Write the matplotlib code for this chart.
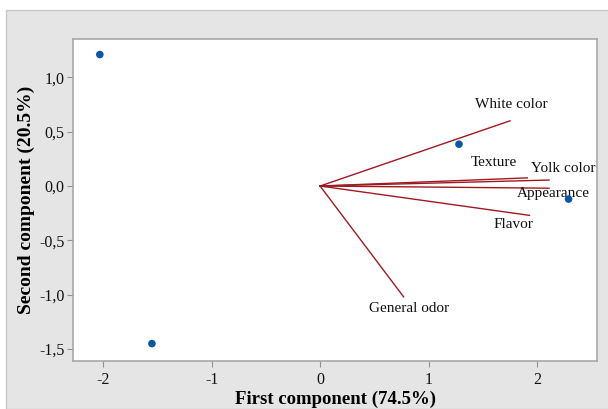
import matplotlib
matplotlib.use('Agg')
import matplotlib.pyplot as plt
from matplotlib.patches import Rectangle
from matplotlib.ticker import FuncFormatter

# PCA scores (samples)
score_pc1 = [-2.03, -1.55, 1.28, 2.29]
score_pc2 = [1.21, -1.45, 0.385, -0.12]

# loading vectors (attributes)
attributes = ['White color', 'Texture', 'Yolk color', 'Appearance', 'Flavor', 'General odor']
load_pc1 = [1.75, 1.91, 2.11, 2.11, 1.93, 0.77]
load_pc2 = [0.60, 0.075, 0.055, -0.02, -0.27, -1.02]

# label anchor (centre) for each attribute
label_x = [1.76, 1.60, 2.24, 2.15, 1.78, 0.82]
label_y = [0.75, 0.22, 0.16, -0.07, -0.35, -1.13]

plt.rcParams['font.family'] = ['Liberation Serif', 'DejaVu Serif']

fig = plt.figure(figsize=(6.08, 4.09), dpi=100)
fig.patch.set_facecolor('white')
# grey backdrop around the plot area
fig.patches.append(Rectangle((5.5 / 608, 0), 1, 1 - 10 / 409, transform=fig.transFigure,
                             facecolor='#e5e5e5', edgecolor='#c8c8c8', linewidth=1, zorder=-5))

ax = fig.add_axes([0.1196, 0.1174, 0.863, 0.787])
ax.set_facecolor('white')

for x, y in zip(load_pc1, load_pc2):
    ax.plot([0, x], [0, y], color='#9e1a20', linewidth=1.0, zorder=2)

for name, x, y in zip(attributes, label_x, label_y):
    ax.text(x, y, name, fontsize=11, ha='center', va='center', color='#111111', zorder=3)

ax.scatter(score_pc1, score_pc2, s=30, color='#0a57a8', zorder=4, edgecolors='none')

ax.set_xlim(-2.28, 2.556)
ax.set_ylim(-1.61, 1.352)
ax.set_xticks([-2, -1, 0, 1, 2])
ax.set_yticks([-1.5, -1.0, -0.5, 0.0, 0.5, 1.0])
ax.xaxis.set_major_formatter(FuncFormatter(lambda v, p: f'{v:.0f}'))
ax.yaxis.set_major_formatter(FuncFormatter(lambda v, p: f'{v:.1f}'.replace('.', ',')))

ax.tick_params(direction='out', length=4, width=0.8, color='#909090',
               labelsize=11.5, labelcolor='#111111', pad=2)
ax.tick_params(axis='x', pad=4)
for sp in ax.spines.values():
    sp.set_color('#a8a8a8')
    sp.set_linewidth(1.2)

ax.set_xlabel('First component (74.5%)', fontsize=13.5, fontweight='bold', labelpad=2)
ax.set_ylabel('Second component (20.5%)', fontsize=14, fontweight='bold', labelpad=3)

fig.savefig('out.png', dpi=100)
